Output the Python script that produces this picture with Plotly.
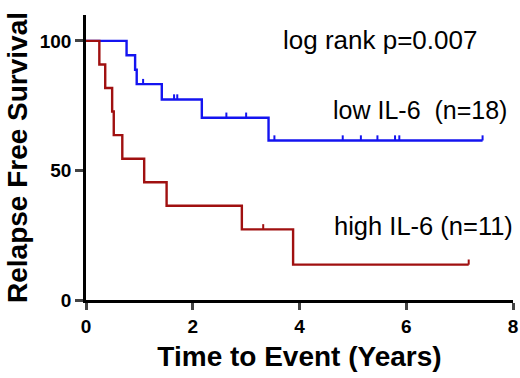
import numpy as np
import plotly.graph_objects as go

# Low IL-6 group (n=18): times in years, event=1 relapse, 0 censored
low_times = [0.76, 0.92, 0.95, 1.07, 1.42, 1.65, 1.71, 2.17, 2.63, 3.00, 3.42, 3.53,
             4.81, 5.15, 5.46, 5.79, 5.87, 7.43]
low_events = [1, 1, 1, 0, 1, 0, 0, 1, 0, 0, 1, 0,
              0, 0, 0, 0, 0, 0]
# High IL-6 group (n=11)
high_times = [0.25, 0.36, 0.49, 0.52, 0.68, 1.09, 1.51, 2.92, 3.32, 3.88, 7.17]
high_events = [1, 1, 1, 1, 1, 1, 1, 1, 0, 1, 0]

x_ticks = [0, 2, 4, 6, 8]
y_ticks = [0, 50, 100]

LOW_COLOR = "#1414f0"
HIGH_COLOR = "#a01010"
FONT = "Arial, Liberation Sans, sans-serif"


def km(times, events):
    t = np.array(times, float)
    e = np.array(events, int)
    order = np.argsort(t)
    t, e = t[order], e[order]
    n = len(t)
    s = 100.0
    xs, ys = [0.0], [100.0]
    cx, cy = [], []
    at_risk = n
    for ti, ei in zip(t, e):
        if ei == 1:
            s = s * (at_risk - 1) / at_risk
            xs.append(ti); ys.append(s)
        else:
            cx.append(ti); cy.append(s)
        at_risk -= 1
    xs.append(t[-1]); ys.append(s)
    return xs, ys, cx, cy


fig = go.Figure()
for times, events, color in [(low_times, low_events, LOW_COLOR),
                             (high_times, high_events, HIGH_COLOR)]:
    xs, ys, cx, cy = km(times, events)
    fig.add_trace(go.Scatter(x=xs, y=ys, mode="lines", line=dict(color=color, width=2.4, shape="hv"),
                             hoverinfo="skip", showlegend=False, cliponaxis=False))
    # censor ticks (small upward marks)
    tx, ty = [], []
    for a, b in zip(cx, cy):
        tx += [a, a, None]
        ty += [b, b + 2.0, None]
    fig.add_trace(go.Scatter(x=tx, y=ty, mode="lines", line=dict(color=color, width=2),
                             hoverinfo="skip", showlegend=False, cliponaxis=False))

annots = [
    dict(x=5.5, y=100.4, text="log rank p=0.007", size=26),
    dict(x=6.25, y=73.4, text="low IL-6  (n=18)", size=25),
    dict(x=6.33, y=28.6, text="high IL-6 (n=11)", size=25.5),
]
for a in annots:
    fig.add_annotation(x=a["x"], y=a["y"], text=a["text"], showarrow=False,
                       font=dict(family=FONT, size=a["size"], color="black"), xanchor="center", yanchor="middle")

fig.update_layout(
    width=520, height=378,
    margin=dict(l=86, r=7, t=15, b=78),
    paper_bgcolor="white", plot_bgcolor="white",
    font=dict(family=FONT, color="black"),
    xaxis=dict(range=[0, 8], tickvals=x_ticks, ticks="outside", ticklen=7, tickwidth=2.5,
               showline=True, linewidth=2.5, linecolor="black", showgrid=False, zeroline=False,
               automargin=False,
               tickfont=dict(family=FONT, size=19, weight="bold"),
               title=dict(text="Time to Event (Years)", font=dict(family=FONT, size=28, weight="bold"), standoff=11)),
    yaxis=dict(range=[0, 110], tickvals=y_ticks, ticks="outside", ticklen=8, tickwidth=2.5,
               showline=True, linewidth=2.5, linecolor="black", showgrid=False, zeroline=False,
               automargin=False,
               tickfont=dict(family=FONT, size=19, weight="bold"),
               title=dict(text="Relapse Free Survival", font=dict(family=FONT, size=28, weight="bold"), standoff=4)),
)

fig.write_html("out.html", config={"displayModeBar": False},
               post_script="document.body.style.margin='0px';document.body.style.overflow='hidden';")
